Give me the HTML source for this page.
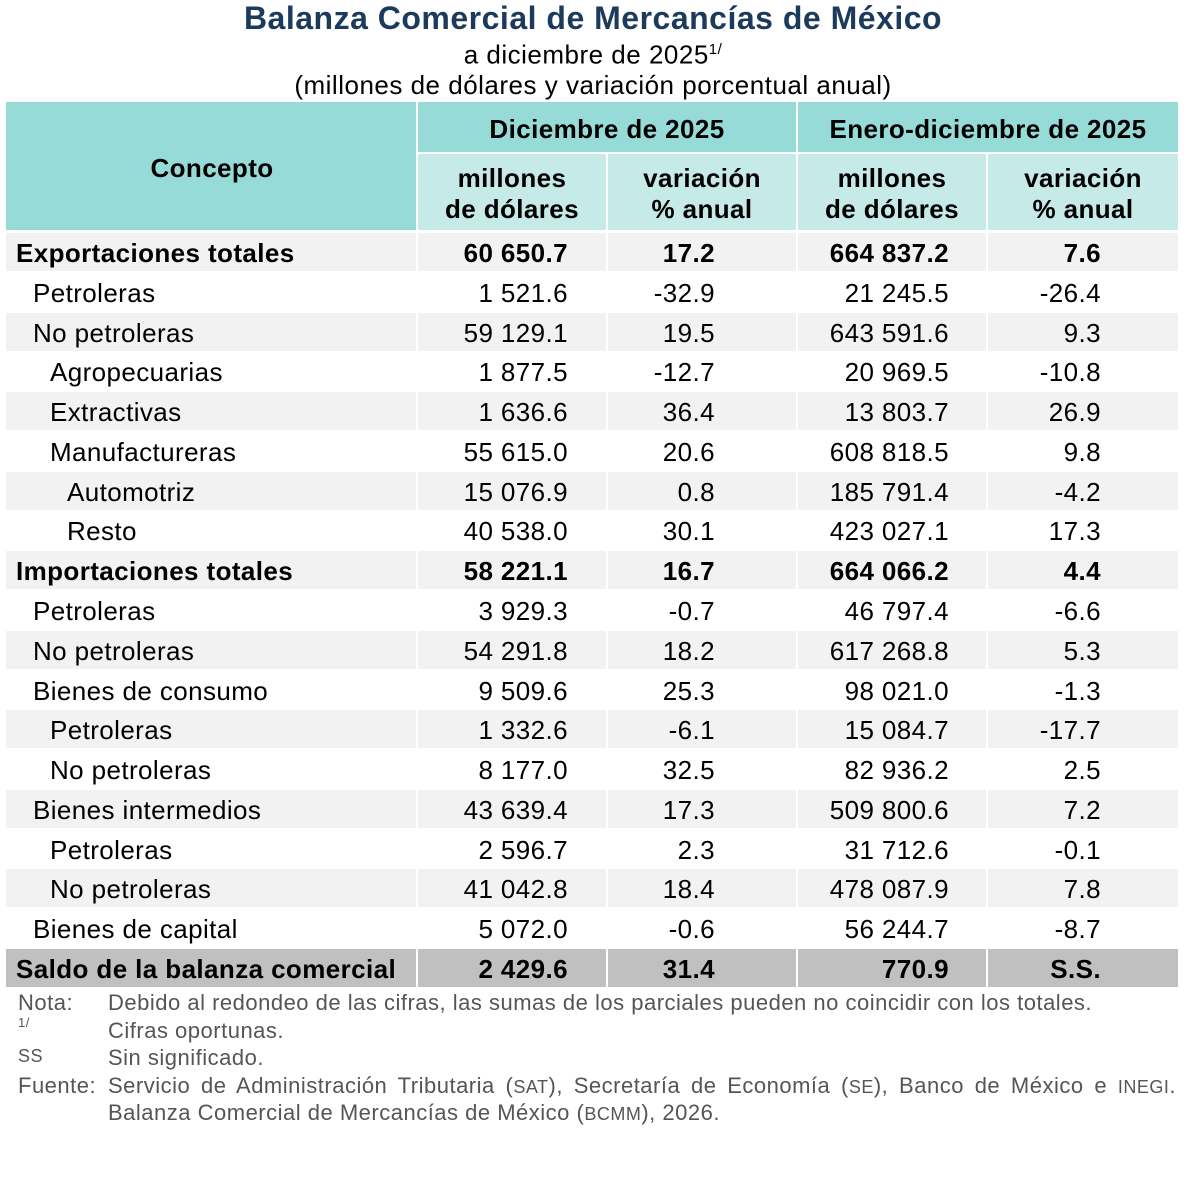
<!DOCTYPE html>
<html><head><meta charset="utf-8"><style>
body{margin:0;width:1186px;height:1192px;background:#fff;font-family:"Liberation Sans",Arial,sans-serif;position:relative;overflow:hidden}
.t{position:absolute;left:0;width:1186px;text-align:center}
.c{position:absolute;box-sizing:border-box;font-size:26px;letter-spacing:0.4px;color:#000;line-height:38px;white-space:nowrap}
.n{position:absolute;font-size:22px;letter-spacing:0.5px;color:#555;white-space:nowrap}
.sc{font-size:18px}
</style></head><body>
<div class="t" style="top:0;font-size:32px;letter-spacing:0.5px;font-weight:bold;color:#1b3a5c;line-height:36px">Balanza Comercial de Mercancías de México</div>
<div class="t" style="top:35px;font-size:26px;letter-spacing:0.5px;line-height:30px">a diciembre de 2025<sup style="font-size:15px">1/</sup></div>
<div class="t" style="top:70px;font-size:26px;letter-spacing:0.5px;line-height:30px">(millones de dólares y variación porcentual anual)</div>
<div id="tb"></div>
<script>
var H='';
function box(x,y,w,h,bg,html,st){H+='<div class="c" style="left:'+x+'px;top:'+y+'px;width:'+w+'px;height:'+h+'px;background:'+bg+';'+(st||'')+'">'+html+'</div>';}
box(6,102,410,128,'#96dbd8','Concepto','font-weight:bold;text-align:center;line-height:132px;padding-left:2px');
box(418,102,378,50,'#96dbd8','Diciembre de 2025','font-weight:bold;text-align:center;line-height:54px');
box(798,102,380,50,'#96dbd8','Enero-diciembre de 2025','font-weight:bold;text-align:center;line-height:54px');
var sx=[418,608,798,988],sw=[188,188,188,190];
var hh=['millones<br>de dólares','variación<br>% anual','millones<br>de dólares','variación<br>% anual'];
for(var i=0;i<4;i++)box(sx[i],154,sw[i],76,'#c6eae8',hh[i],'font-weight:bold;text-align:center;line-height:31px;padding-top:9px');
var rows=[
[0,1,'Exportaciones totales','60 650.7','17.2','664 837.2','7.6'],
[1,0,'Petroleras','1 521.6','-32.9','21 245.5','-26.4'],
[1,0,'No petroleras','59 129.1','19.5','643 591.6','9.3'],
[2,0,'Agropecuarias','1 877.5','-12.7','20 969.5','-10.8'],
[2,0,'Extractivas','1 636.6','36.4','13 803.7','26.9'],
[2,0,'Manufactureras','55 615.0','20.6','608 818.5','9.8'],
[3,0,'Automotriz','15 076.9','0.8','185 791.4','-4.2'],
[3,0,'Resto','40 538.0','30.1','423 027.1','17.3'],
[0,1,'Importaciones totales','58 221.1','16.7','664 066.2','4.4'],
[1,0,'Petroleras','3 929.3','-0.7','46 797.4','-6.6'],
[1,0,'No petroleras','54 291.8','18.2','617 268.8','5.3'],
[1,0,'Bienes de consumo','9 509.6','25.3','98 021.0','-1.3'],
[2,0,'Petroleras','1 332.6','-6.1','15 084.7','-17.7'],
[2,0,'No petroleras','8 177.0','32.5','82 936.2','2.5'],
[1,0,'Bienes intermedios','43 639.4','17.3','509 800.6','7.2'],
[2,0,'Petroleras','2 596.7','2.3','31 712.6','-0.1'],
[2,0,'No petroleras','41 042.8','18.4','478 087.9','7.8'],
[1,0,'Bienes de capital','5 072.0','-0.6','56 244.7','-8.7'],
[0,1,'Saldo de la balanza comercial','2 429.6','31.4','770.9','S.S.']];
var pr=[38,81,37,77];
for(var r=0;r<rows.length;r++){
 var R=rows[r],y=Math.round(232+r*39.78),bg=(r==18)?'#c0c0c0':(r%2==0?'#f2f2f2':'#fff');
 var b=R[1]?'font-weight:bold;':'';
 box(6,y+1,410,38,bg,R[2],b+'padding-left:'+(10+R[0]*17)+'px;line-height:40px');
 for(var i=0;i<4;i++)box(sx[i],y+1,sw[i],38,bg,R[3+i],b+'text-align:right;line-height:40px;padding-right:'+pr[i]+'px');
}
document.getElementById('tb').innerHTML=H;
</script>
<div class="n" style="left:18px;top:990px">Nota:</div>
<div class="n" style="left:108px;top:990px">Debido al redondeo de las cifras, las sumas de los parciales pueden no coincidir con los totales.</div>
<div class="n" style="left:18px;top:1015px;font-size:13px">1/</div>
<div class="n" style="left:108px;top:1018px">Cifras oportunas.</div>
<div class="n" style="left:18px;top:1046px;font-size:18px">SS</div>
<div class="n" style="left:108px;top:1045px">Sin significado.</div>
<div class="n" style="left:18px;top:1073px">Fuente:</div>
<div class="n" style="left:108px;top:1073px;width:1068px;text-align:justify;text-align-last:justify">Servicio de Administración Tributaria (<span class="sc">SAT</span>), Secretaría de Economía (<span class="sc">SE</span>), Banco de México e <span class="sc">INEGI</span>.</div>
<div class="n" style="left:108px;top:1100px">Balanza Comercial de Mercancías de México (<span class="sc">BCMM</span>), 2026.</div>
</body></html>
